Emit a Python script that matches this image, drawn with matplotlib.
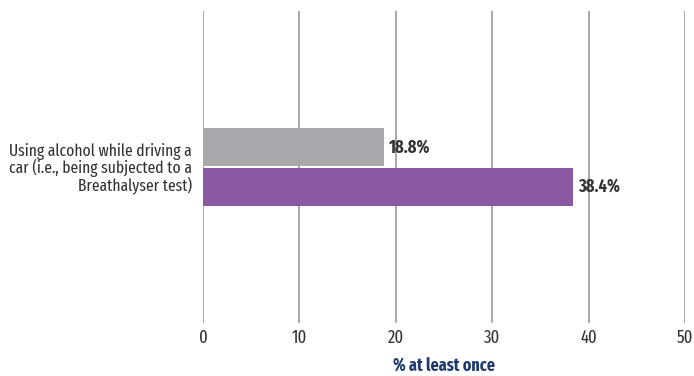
import matplotlib
matplotlib.use('Agg')
from matplotlib import pyplot as plt
import logging

logging.getLogger('matplotlib.font_manager').setLevel(logging.ERROR)

# data
category = 'Using alcohol while driving a\ncar (i.e., being subjected to a\nBreathalyser test)'
values = [18.8, 38.4]
colors = ['#a7a9ac', '#8b58a3']
xticks = [0, 10, 20, 30, 40, 50]

plt.rcParams['font.family'] = ['Fira Sans Extra Condensed', 'Fira Sans Condensed',
	'Roboto Condensed', 'Liberation Sans Narrow', 'DejaVu Sans']

fig = plt.figure(figsize=(6.94, 3.76), dpi=100)
ax = fig.add_axes([0.2925, 0.141, 0.695, 0.83])

barH = 0.122
offsets = [-0.064, 0.064]
for val, col, off in zip(values, colors, offsets):
	ax.barh(off, val, height=barH, color=col, zorder=3)
	ax.text(val + 0.45, off, '%.1f%%' % val, va='center', ha='left',
		fontsize=12.8, fontweight='bold', color='#333333')

ax.set_xlim(0, 50)
ax.set_ylim(0.5, -0.5)
ax.set_xticks(xticks)
ax.set_xticklabels([str(t) for t in xticks], fontsize=13, color='#333333')
ax.tick_params(axis='x', length=0, pad=4)
ax.set_yticks([0])
ax.set_yticklabels([category], fontsize=12.2, color='#333333', linespacing=0.95)
ax.tick_params(axis='y', length=0, pad=8)

for s in ax.spines.values():
	s.set_visible(False)
ax.grid(axis='x', color='#9a9a9a', linewidth=1.2, zorder=0)

ax.set_xlabel('% at least once', fontsize=12.5, fontweight='bold', color='#1f3a6e', labelpad=8)

fig.savefig('out.png', dpi=100)
